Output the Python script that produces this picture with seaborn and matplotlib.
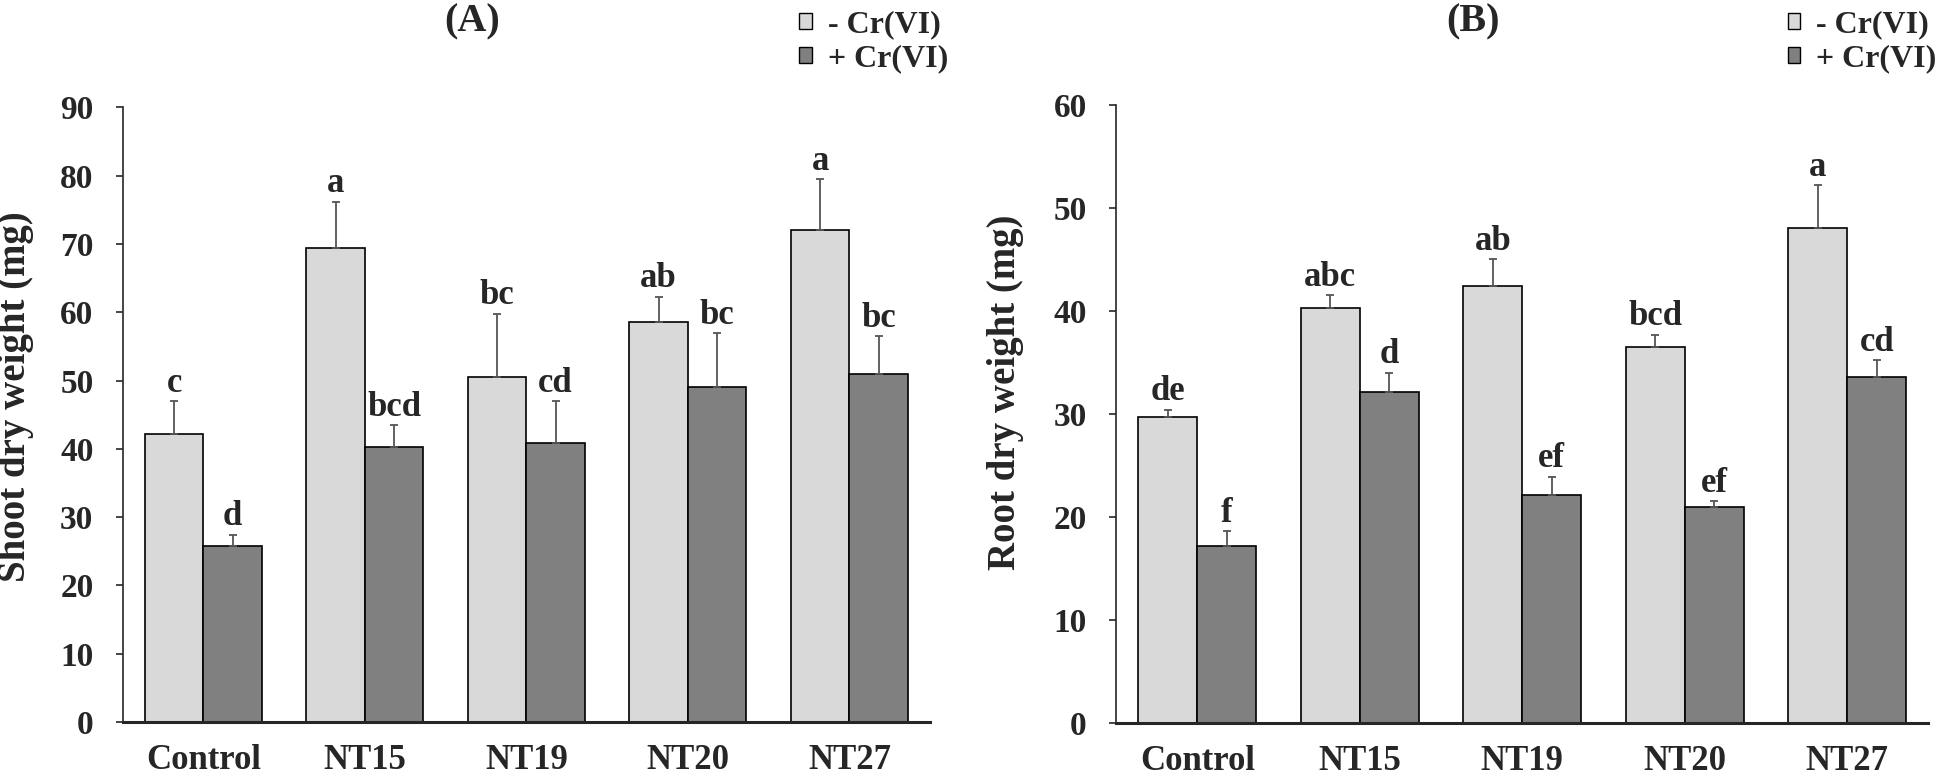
"""Shoot and root dry weight under Cr(VI) stress (panels A and B)."""

import numpy as np
import pandas as pd
import matplotlib

matplotlib.use("Agg")
import matplotlib.pyplot as plt
import seaborn as sns
from matplotlib.patches import Patch

# 資料
strains = ["Control", "NT15", "NT19", "NT20", "NT27"]
treatments = ["- Cr(VI)", "+ Cr(VI)"]

shoot_minus = [42.2, 69.4, 50.5, 58.5, 72.0]
shoot_plus = [25.7, 40.3, 40.8, 49.0, 50.9]
shoot_err_minus = [4.8, 6.8, 9.3, 3.8, 7.5]
shoot_err_plus = [1.7, 3.2, 6.2, 7.9, 5.6]
shoot_letters_minus = ["c", "a", "bc", "ab", "a"]
shoot_letters_plus = ["d", "bcd", "cd", "bc", "bc"]

root_minus = [29.7, 40.3, 42.4, 36.5, 48.1]
root_plus = [17.2, 32.1, 22.1, 21.0, 33.6]
root_err_minus = [0.7, 1.2, 2.6, 1.2, 4.1]
root_err_plus = [1.4, 1.9, 1.8, 0.5, 1.6]
root_letters_minus = ["de", "abc", "ab", "bcd", "a"]
root_letters_plus = ["f", "d", "ef", "ef", "cd"]

colors = ["#d9d9d9", "#808080"]

sns.set_style("ticks")
plt.rcParams["font.family"] = ["Liberation Serif", "DejaVu Serif"]
plt.rcParams["font.weight"] = "bold"


def draw_panel(ax, minus, plus, err_minus, err_plus, let_minus, let_plus, ymax, ylabel):
    df = pd.DataFrame(
        {
            "strain": strains * 2,
            "treatment": [treatments[0]] * 5 + [treatments[1]] * 5,
            "value": minus + plus,
        }
    )
    sns.barplot(
        data=df, x="strain", y="value", hue="treatment", order=strains,
        hue_order=treatments, palette=colors, width=0.725, gap=0,
        edgecolor="black", linewidth=1.2, errorbar=None, legend=False, ax=ax,
    )

    # 誤差線與顯著性字母
    for cont, errs, letters in zip(ax.containers, [err_minus, err_plus], [let_minus, let_plus]):
        for bar, e, lab in zip(cont, errs, letters):
            x = bar.get_x() + bar.get_width() / 2
            h = bar.get_height()
            ax.errorbar(x, h, yerr=[[0], [e]], color="#555555", lw=1.3,
                        capsize=3, capthick=1.3, zorder=3)
            ax.annotate(lab, (x, h + e), xytext=(0, 1), textcoords="offset points",
                        ha="center", va="bottom", fontsize=25, fontweight="bold")

    ax.set_ylim(0, ymax)
    ax.set_xlim(-0.5, 4.5)
    ax.set_yticks(np.arange(0, ymax + 1, 10))
    ax.set_xlabel("")
    ax.set_ylabel(ylabel, fontsize=28, fontweight="bold")
    sns.despine(ax=ax)
    ax.spines["left"].set_linewidth(1.2)
    ax.spines["bottom"].set_linewidth(2.2)
    ax.tick_params(axis="y", length=5, width=1.2, pad=16, labelsize=24)
    ax.tick_params(axis="x", length=0, pad=16, labelsize=25)
    for t in ax.get_xticklabels() + ax.get_yticklabels():
        t.set_fontweight("bold")


fig = plt.figure(figsize=(19.46, 7.78), dpi=100)
ax_a = fig.add_axes([0.063, 0.072, 0.415, 0.790])
ax_b = fig.add_axes([0.5735, 0.071, 0.4175, 0.794])

draw_panel(ax_a, shoot_minus, shoot_plus, shoot_err_minus, shoot_err_plus,
           shoot_letters_minus, shoot_letters_plus, 90, "Shoot dry weight (mg)")
draw_panel(ax_b, root_minus, root_plus, root_err_minus, root_err_plus,
           root_letters_minus, root_letters_plus, 60, "Root dry weight (mg)")
ax_a.yaxis.set_label_coords(-0.110, 0.53)
ax_b.yaxis.set_label_coords(-0.113, 0.535)

fig.text(0.2425, 0.972, "(A)", ha="center", va="center", fontsize=29, fontweight="bold")
fig.text(0.757, 0.972, "(B)", ha="center", va="center", fontsize=29, fontweight="bold")

handles = [Patch(facecolor=c, edgecolor="black", linewidth=1.0) for c in colors]
for xpos in (0.404, 0.912):
    fig.legend(handles, treatments, loc="upper left", bbox_to_anchor=(xpos, 1.003),
               frameon=False, handlelength=0.4, handleheight=0.4, handletextpad=0.5,
               labelspacing=0.15, borderaxespad=0,
               prop={"size": 23, "weight": "bold"})

fig.savefig("out.png", dpi=100)
